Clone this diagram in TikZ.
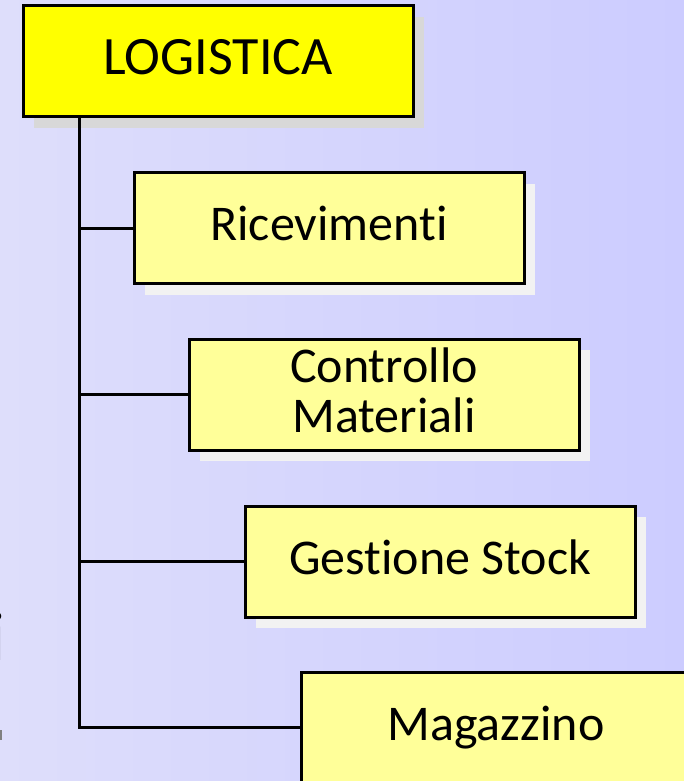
\documentclass[tikz,border=0pt]{standalone}
\usepackage{fontspec}
\setmainfont{Carlito}[RawFeature={-liga}]
\usetikzlibrary{shadows}

\definecolor{bgleft}{RGB}{222,222,251}
\definecolor{bgright}{RGB}{204,204,255}
\definecolor{headfill}{RGB}{255,255,0}
\definecolor{itemfill}{RGB}{255,255,153}
\definecolor{headshadow}{RGB}{216,216,216}
\definecolor{itemshadow}{RGB}{242,242,242}

\tikzset{
  headbox/.style={draw=black, line width=3pt, fill=headfill, inner sep=0pt,
    minimum width=390pt, minimum height=111pt,
    font=\fontsize{54}{54}\selectfont, text height=38pt, text depth=11pt,
    general shadow={fill=headshadow, shadow xshift=11pt, shadow yshift=-11pt}},
  itembox/.style={draw=black, line width=3pt, fill=itemfill, inner sep=0pt,
    minimum width=390pt, minimum height=111pt, align=center,
    font=\fontsize{50}{50}\selectfont, text height=35pt, text depth=10pt,
    general shadow={fill=itemshadow, shadow xshift=11pt, shadow yshift=-11pt}},
  link/.style={draw=black, line width=3pt}
}

\begin{document}
\begin{tikzpicture}[x=1pt, y=-1pt]
  \useasboundingbox (0,0) rectangle (684,781);
  \clip (0,0) rectangle (684,781);
  \shade[left color=bgleft, right color=bgright] (0,0) rectangle (684,781);

  % text cut off at the left edge
  \node[anchor=base east, inner sep=0pt, font=\fontsize{70}{70}\selectfont] (frag) at (6,660) {i};
  \fill[gray] (0,730) rectangle (1.5,740);

  % hierarchy boxes
  \node[headbox] (top) at (218,61.5) {LOGISTICA};
  \node[itembox] (ric) at (329,228) {Ricevimenti};
  \node[itembox, text height=85pt] (ctl) at (384,394.5) {Controllo\\Materiali};
  \node[itembox] (ges) at (440,561.5) {Gestione Stock};
  \node[itembox] (mag) at (496,727.5) {Magazzino};

  % trunk and branches
  \coordinate (trunk) at (79,0);
  \draw[link] (trunk |- top.south) -- (trunk |- mag.west) -- (mag.west);
  \draw[link] (trunk |- ric.west) -- (ric.west);
  \draw[link] (trunk |- ctl.west) -- (ctl.west);
  \draw[link] (trunk |- ges.west) -- (ges.west);
\end{tikzpicture}
\end{document}
